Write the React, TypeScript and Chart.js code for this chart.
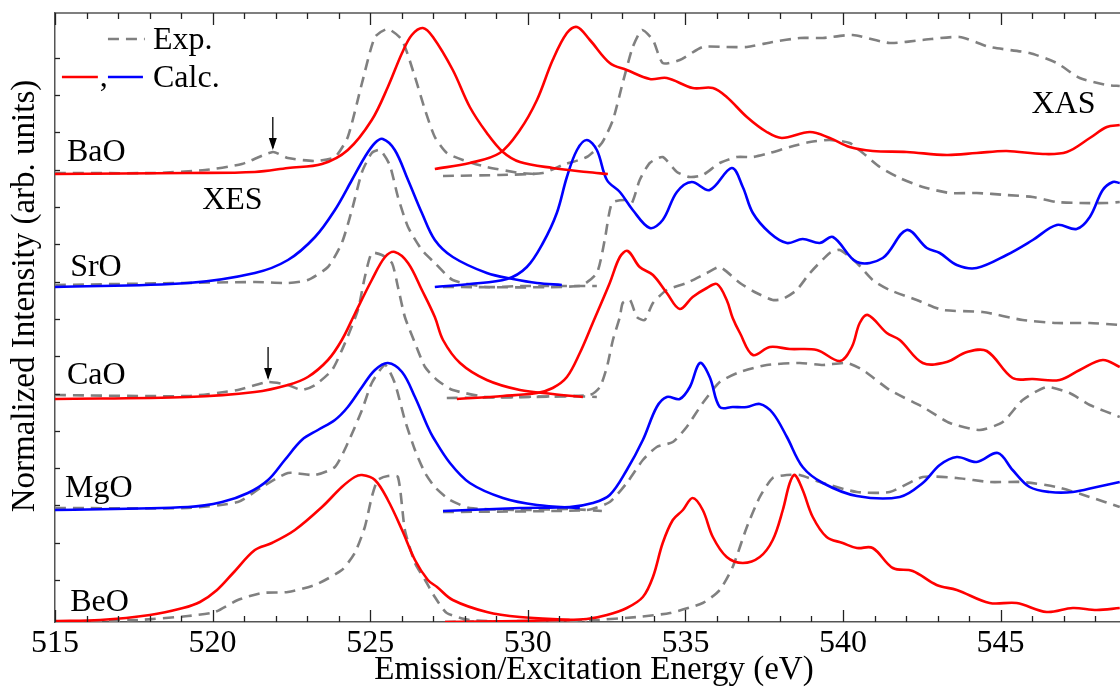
import React, { useEffect, useRef } from 'react';
import { Chart, registerables } from 'chart.js';

Chart.register(...registerables);

const FONT = '"Liberation Serif", "Times New Roman", serif';
const RED = '#ff0000';
const BLUE = '#0000ff';
const GRAY = '#808080';

// x axis (eV)
const xMin = 515;
const xMax = 549.2;
const xTickLabels = [515, 520, 525, 530, 535, 540, 545];
// y axis (arb. units, curves stacked with offsets)
const yMin = 0;
const yMax = 60.9;
const yTicks = [4.2, 7.93, 11.66, 15.39, 19.12, 22.85, 26.58, 30.31, 34.04, 37.77, 41.5, 45.23, 48.96, 52.69, 56.42];

// ---------- BaO ----------
const baoXesCalc: [number, number][] = [
  [515.0, 44.8], [519.22, 44.9], [521.34, 45.0], [522.39, 45.4], [523.47, 45.8], [524.29, 47.2],
  [525.05, 50.2], [525.56, 53.5], [526.01, 56.9], [526.32, 58.7], [526.67, 59.4], [526.99, 58.5],
  [527.62, 55.2], [528.16, 51.5], [528.7, 48.9], [529.21, 47.0], [529.75, 46.0], [530.79, 45.4],
  [531.87, 45.0], [532.54, 44.8],
];
const baoXesExp: [number, number][] = [
  [515.0, 44.9], [518.17, 44.9], [519.76, 45.2], [520.93, 45.8], [521.91, 47.0], [522.39, 46.4],
  [523.25, 46.1], [523.88, 46.5], [524.29, 48.5], [524.74, 53.9], [525.15, 58.5], [525.56, 59.3],
  [526.01, 58.2], [526.42, 54.5], [526.74, 51.2], [527.05, 48.5], [527.43, 46.9], [527.94, 46.2],
  [528.7, 45.5], [529.75, 44.9], [530.22, 44.8],
];
const baoXasCalc: [number, number][] = [
  [527.05, 45.3], [528.16, 45.9], [529.11, 46.9], [529.75, 49.2], [530.29, 52.2], [530.79, 56.2],
  [531.24, 58.9], [531.56, 59.5], [531.97, 58.2], [532.6, 55.9], [533.14, 55.2], [533.87, 54.3],
  [534.41, 54.4], [535.23, 53.4], [535.87, 53.4], [536.31, 52.5], [536.95, 50.5], [537.58, 49.0],
  [538.06, 48.4], [538.95, 49.0], [539.58, 48.4], [540.21, 47.5], [540.94, 47.1], [542.02, 47.0],
  [543.29, 46.7], [544.24, 46.9], [545.19, 47.1], [546.34, 46.8], [547.1, 47.0], [547.83, 48.4],
  [548.37, 49.5], [548.78, 49.7],
];
const baoXasExp: [number, number][] = [
  [527.31, 44.6], [529.11, 44.7], [530.48, 44.9], [531.11, 45.7], [531.87, 46.5], [532.35, 47.9],
  [532.7, 50.2], [533.01, 53.9], [533.33, 57.5], [533.62, 59.2], [533.97, 58.2], [534.28, 55.9],
  [534.82, 56.2], [535.55, 57.5], [536.31, 57.5], [536.95, 57.5], [537.77, 58.0], [538.63, 58.4],
  [539.36, 58.4], [540.31, 58.7], [541.48, 57.9], [542.53, 58.2], [543.7, 58.5], [544.65, 57.5],
  [545.92, 56.9], [546.78, 55.9], [547.51, 54.4], [548.37, 53.7], [548.78, 53.6],
];

// ---------- SrO ----------
const sroXesCalc: [number, number][] = [
  [515.0, 33.5], [519.22, 33.9], [521.34, 34.9], [522.39, 36.2], [523.25, 38.5], [523.88, 41.2],
  [524.42, 44.2], [524.83, 46.5], [525.15, 47.9], [525.4, 48.3], [525.78, 47.2], [526.2, 44.2],
  [526.64, 40.9], [527.05, 38.2], [527.62, 36.5], [528.7, 34.9], [529.53, 34.3], [530.29, 33.9],
  [531.08, 33.7],
];
const sroXesExp: [number, number][] = [
  [515.0, 33.7], [521.34, 34.0], [522.39, 33.9], [523.02, 34.2], [523.66, 35.5], [524.1, 37.9],
  [524.42, 41.2], [524.74, 45.0], [525.05, 46.9], [525.31, 47.2], [525.62, 45.7], [525.88, 42.5],
  [526.2, 39.5], [526.64, 37.2], [527.05, 35.9], [527.62, 34.2], [528.7, 33.5], [529.75, 33.6],
  [530.79, 33.6], [532.19, 33.6],
];
const sroXasCalc: [number, number][] = [
  [527.05, 33.5], [528.16, 33.8], [529.34, 34.3], [529.97, 35.5], [530.48, 37.9], [530.92, 40.9],
  [531.24, 44.5], [531.56, 47.2], [531.87, 48.2], [532.19, 47.2], [532.51, 44.2], [532.92, 43.0],
  [533.33, 41.2], [533.87, 39.4], [534.28, 40.2], [534.73, 43.0], [535.2, 44.0], [535.77, 43.2],
  [536.47, 45.4], [536.82, 43.5], [537.14, 40.9], [537.68, 38.9], [538.22, 37.9], [538.72, 38.3],
  [539.26, 37.9], [539.68, 38.5], [540.44, 36.0], [541.26, 36.4], [542.02, 39.2], [542.66, 37.4],
  [543.07, 36.9], [543.61, 35.7], [544.24, 35.4], [545.19, 36.7], [546.02, 38.2], [546.78, 39.7],
  [547.41, 39.3], [547.83, 40.5], [548.24, 43.2], [548.56, 44.0], [548.78, 43.9],
];
const sroXasExp: [number, number][] = [
  [527.31, 33.5], [531.65, 33.6], [532.19, 34.9], [532.44, 38.2], [532.67, 41.9], [533.08, 42.2],
  [533.3, 41.9], [533.55, 44.2], [533.87, 45.9], [534.28, 46.5], [534.73, 45.0], [535.14, 44.5],
  [535.55, 44.7], [536.09, 45.9], [536.63, 46.5], [537.14, 46.5], [537.68, 46.9], [538.31, 47.5],
  [538.95, 48.0], [539.58, 48.2], [540.21, 47.9], [540.63, 46.9], [541.17, 45.5], [541.8, 44.4],
  [542.53, 43.5], [543.39, 42.9], [544.24, 42.9], [545.19, 42.7], [546.02, 42.5], [546.78, 42.0],
  [547.51, 41.9], [548.37, 41.9], [548.78, 42.0],
];

// ---------- CaO ----------
const caoXesCalc: [number, number][] = [
  [515.0, 22.3], [519.22, 22.5], [521.34, 23.0], [522.39, 23.7], [523.02, 24.5], [523.66, 26.2],
  [524.1, 28.2], [524.51, 30.8], [525.05, 34.2], [525.47, 36.5], [525.78, 37.0], [526.2, 35.9],
  [526.64, 33.2], [527.05, 30.5], [527.31, 28.2], [527.85, 25.9], [528.7, 24.2], [529.75, 23.2],
  [530.79, 22.8], [531.75, 22.5],
];
const caoXesExp: [number, number][] = [
  [515.0, 22.7], [519.22, 22.6], [520.8, 23.2], [521.76, 24.0], [522.39, 23.7], [522.83, 23.2],
  [523.25, 23.7], [523.79, 25.2], [524.2, 27.9], [524.61, 31.2], [524.83, 34.5], [525.05, 36.9],
  [525.37, 36.7], [525.69, 35.9], [525.88, 33.5], [526.1, 30.5], [526.42, 27.9], [526.74, 25.5],
  [527.12, 24.2], [527.62, 23.2], [528.7, 22.5], [529.75, 22.5], [531.33, 22.6], [532.19, 22.5],
];
const caoXasCalc: [number, number][] = [
  [527.75, 22.3], [529.21, 22.6], [530.29, 22.9], [530.79, 23.4], [531.24, 24.5], [531.65, 26.9],
  [532.06, 29.9], [532.6, 33.9], [532.92, 36.5], [533.17, 37.1], [533.55, 35.5], [533.97, 34.7],
  [534.41, 32.9], [534.82, 31.3], [535.23, 32.5], [535.68, 33.4], [536.0, 33.8], [536.31, 32.2],
  [536.5, 30.4], [536.73, 28.9], [537.14, 26.7], [537.68, 27.5], [538.31, 27.3], [539.17, 27.2],
  [539.9, 26.1], [540.28, 27.5], [540.53, 29.9], [540.79, 30.7], [541.39, 28.9], [541.8, 28.2],
  [542.53, 25.9], [543.29, 26.0], [543.93, 27.0], [544.56, 27.1], [545.38, 24.4], [546.02, 24.3],
  [546.87, 24.2], [547.51, 25.2], [548.24, 26.2], [548.78, 25.5],
];
const caoXasExp: [number, number][] = [
  [527.43, 22.4], [530.07, 22.5], [531.97, 22.7], [532.29, 23.5], [532.51, 25.5], [532.7, 28.2],
  [532.92, 30.5], [533.01, 31.9], [533.24, 32.2], [533.46, 30.5], [533.71, 30.2], [533.97, 31.9],
  [534.41, 33.2], [535.04, 33.9], [535.68, 34.9], [536.09, 35.5], [536.73, 33.9], [537.26, 32.9],
  [537.77, 32.2], [538.09, 32.3], [538.53, 33.2], [538.95, 34.9], [539.58, 36.9], [539.9, 37.2],
  [540.44, 35.9], [540.94, 34.2], [541.48, 33.2], [542.34, 32.2], [543.16, 31.2], [544.43, 31.0],
  [545.7, 30.2], [546.78, 29.9], [547.83, 29.9], [548.78, 29.7],
];

// ---------- MgO ----------
const mgoXesCalc: [number, number][] = [
  [515.0, 11.2], [519.22, 11.5], [520.3, 12.0], [521.12, 12.9], [521.76, 14.2], [522.29, 16.2],
  [522.83, 18.2], [523.34, 19.2], [523.88, 20.2], [524.29, 21.5], [524.74, 23.5], [525.15, 25.2],
  [525.56, 25.9], [526.01, 25.0], [526.42, 22.5], [526.83, 19.5], [526.99, 18.5], [527.53, 15.9],
  [528.16, 13.9], [529.21, 12.4], [530.29, 11.7], [531.65, 11.4],
];
const mgoXesExp: [number, number][] = [
  [515.0, 11.4], [519.22, 11.4], [520.8, 12.0], [521.57, 13.5], [522.39, 14.9], [523.25, 14.7],
  [523.88, 15.5], [524.29, 17.9], [524.74, 21.2], [525.05, 23.9], [525.47, 25.7], [525.78, 23.9],
  [526.1, 20.2], [526.42, 17.2], [526.74, 14.9], [527.05, 13.5], [527.53, 12.2], [528.16, 11.4],
  [529.75, 11.2], [531.33, 11.3], [532.35, 11.1],
];
const mgoXasCalc: [number, number][] = [
  [527.31, 11.1], [529.75, 11.4], [531.33, 11.5], [532.06, 11.9], [532.6, 12.7], [533.14, 15.2],
  [533.65, 18.2], [534.09, 21.5], [534.41, 22.5], [534.82, 22.3], [535.14, 23.5], [535.46, 25.9],
  [535.77, 24.5], [536.09, 21.5], [536.5, 21.5], [536.95, 21.5], [537.36, 21.8], [537.77, 20.9],
  [538.22, 18.5], [538.72, 15.5], [539.36, 13.9], [540.44, 12.6], [541.8, 12.5], [542.53, 13.9],
  [543.07, 15.7], [543.61, 16.5], [544.24, 16.0], [544.91, 16.9], [545.38, 15.2], [545.92, 13.5],
  [546.56, 13.0], [547.29, 13.0], [548.05, 13.5], [548.78, 14.0],
];
const mgoXasExp: [number, number][] = [
  [527.31, 11.0], [531.87, 11.2], [532.6, 12.0], [533.14, 13.9], [533.65, 16.2], [534.09, 17.5],
  [534.6, 18.0], [535.04, 19.5], [535.55, 21.9], [536.09, 24.0], [536.73, 25.0], [537.58, 25.7],
  [538.63, 25.9], [539.36, 25.7], [540.12, 25.9], [540.63, 25.2], [541.48, 23.2], [542.53, 21.5],
  [543.39, 19.9], [544.34, 19.2], [545.07, 20.0], [545.7, 22.2], [546.46, 23.5], [547.19, 22.9],
  [547.83, 21.7], [548.78, 20.5],
];

// ---------- BeO ----------
const beoXesCalc: [number, number][] = [
  [515.0, 0.1], [516.43, 0.2], [518.01, 0.7], [519.06, 1.4], [519.6, 2.0], [520.14, 3.2],
  [520.65, 4.9], [521.34, 7.2], [521.88, 7.9], [522.61, 9.2], [523.47, 11.5], [524.1, 13.5],
  [524.51, 14.5], [524.74, 14.7], [525.15, 14.2], [525.56, 12.2], [526.01, 9.2], [526.42, 6.2],
  [526.83, 4.2], [527.12, 3.5], [527.62, 2.2], [528.7, 1.0], [529.75, 0.5], [531.33, 0.2],
];
const beoXesExp: [number, number][] = [
  [515.0, 0.0], [517.63, 0.2], [519.22, 0.6], [520.07, 1.0], [520.8, 2.2], [521.57, 2.9],
  [522.39, 3.0], [523.25, 3.7], [524.1, 5.2], [524.51, 6.9], [524.83, 9.5], [525.05, 12.5],
  [525.24, 14.2], [525.56, 14.6], [525.88, 14.5], [526.1, 9.2], [526.42, 5.9], [526.74, 4.2],
  [527.05, 2.5], [527.43, 0.9], [528.16, 0.2], [529.75, 0.0], [531.87, 0.0],
];
const beoXasCalc: [number, number][] = [
  [527.37, 0.0], [529.75, 0.1], [531.02, 0.2], [531.87, 0.3], [532.51, 0.7], [533.14, 1.4],
  [533.65, 2.5], [533.97, 4.5], [534.28, 7.9], [534.6, 10.2], [534.92, 11.2], [535.23, 12.4],
  [535.55, 11.2], [535.87, 8.5], [536.31, 6.5], [536.82, 5.9], [537.36, 6.5], [537.77, 8.2],
  [538.09, 11.2], [538.31, 13.9], [538.47, 14.7], [538.72, 13.2], [539.04, 10.5], [539.48, 8.5],
  [539.99, 7.9], [540.44, 7.4], [540.94, 7.4], [541.58, 5.4], [542.21, 5.1], [542.97, 3.7],
  [543.61, 3.2], [544.65, 1.9], [545.51, 1.9], [546.46, 1.0], [547.29, 1.4], [548.05, 1.2],
  [548.78, 1.4],
];
const beoXasExp: [number, number][] = [
  [527.37, 0.0], [532.06, 0.2], [533.46, 0.5], [534.51, 0.9], [535.55, 1.9], [536.09, 3.2],
  [536.5, 5.5], [536.95, 9.5], [537.36, 12.5], [537.77, 14.4], [538.22, 14.7], [538.63, 14.7],
  [539.36, 13.9], [540.44, 13.0], [541.48, 13.0], [542.53, 14.5], [543.61, 14.4], [544.65, 14.0],
  [545.7, 14.0], [546.78, 13.5], [547.83, 12.5], [548.78, 11.5],
];

// text annotations: [text, x (eV), y baseline]
const compoundLabels: [string, number, number][] = [
  ['BaO', 515.38, 46.1], ['SrO', 515.48, 34.6], ['CaO', 515.38, 23.8], ['MgO', 515.32, 12.5], ['BeO', 515.48, 1.1],
];
const regionLabels: [string, number, number][] = [['XES', 519.67, 41.3], ['XAS', 545.98, 50.9]];
// arrows: [x (eV), y from, y to]
const arrows: [number, number, number][] = [[521.91, 50.5, 47.2], [521.76, 27.5, 24.2]];
const yTitle = 'Normalized Intensity (arb. units)';
const xTitle = 'Emission/Excitation Energy (eV)';

const calcSets: [[number, number][], string][] = [
  [baoXesCalc, RED], [baoXasCalc, RED], [sroXesCalc, BLUE], [sroXasCalc, BLUE],
  [caoXesCalc, RED], [caoXasCalc, RED], [mgoXesCalc, BLUE], [mgoXasCalc, BLUE],
  [beoXesCalc, RED], [beoXasCalc, RED],
];
const expSets: [number, number][][] = [
  baoXesExp, baoXasExp, sroXesExp, sroXasExp, caoXesExp, caoXasExp, mgoXesExp, mgoXasExp, beoXesExp, beoXasExp,
];

const decorPlugin = {
  id: 'decor',
  afterDraw(chart: any) {
    const { ctx, chartArea: ca, scales } = chart;
    const xs = scales.x;
    const ys = scales.y;
    const X = (v: number) => xs.getPixelForValue(v);
    const Y = (v: number) => ys.getPixelForValue(v);
    const seg = (x1: number, y1: number, x2: number, y2: number) => {
      ctx.beginPath();
      ctx.moveTo(x1, y1);
      ctx.lineTo(x2, y2);
      ctx.stroke();
    };
    ctx.save();
    // top frame
    ctx.strokeStyle = '#555';
    ctx.lineWidth = 1.5;
    seg(ca.left, ca.top, ca.right, ca.top);
    // inward x ticks on bottom and top
    ctx.strokeStyle = '#222';
    ctx.lineWidth = 1.3;
    for (let v = 515; v <= 549; v++) {
      const px = Math.round(X(v)) + 0.5;
      const len = v % 5 === 0 ? 12 : 6;
      seg(px, ca.bottom, px, ca.bottom - len);
      seg(px, ca.top, px, ca.top + len);
    }
    // inward y ticks
    for (const t of yTicks) {
      const py = Math.round(Y(t)) + 0.5;
      seg(ca.left, py, ca.left + 5, py);
    }
    // y title
    ctx.fillStyle = '#000';
    ctx.save();
    ctx.translate(25, 296);
    ctx.rotate(-Math.PI / 2);
    ctx.font = `33px ${FONT}`;
    ctx.textAlign = 'center';
    ctx.textBaseline = 'middle';
    ctx.fillText(yTitle, 0, 0);
    ctx.restore();
    // texts
    ctx.font = `32px ${FONT}`;
    ctx.textAlign = 'left';
    ctx.textBaseline = 'alphabetic';
    for (const [t, x, y] of compoundLabels) ctx.fillText(t, X(x), Y(y));
    for (const [t, x, y] of regionLabels) ctx.fillText(t, X(x), Y(y));
    // arrows
    ctx.strokeStyle = '#000';
    ctx.lineWidth = 1.3;
    for (const [x, y1, y2] of arrows) {
      const px = X(x);
      const p1 = Y(y1);
      const p2 = Y(y2);
      seg(px, p1, px, p2 - 2);
      ctx.beginPath();
      ctx.moveTo(px, p2);
      ctx.lineTo(px - 4, p2 - 12);
      ctx.lineTo(px + 4, p2 - 12);
      ctx.closePath();
      ctx.fill();
    }
    // legend
    ctx.lineWidth = 2.5;
    ctx.strokeStyle = GRAY;
    ctx.setLineDash([11, 7]);
    seg(X(516.68), Y(58.3), X(517.85), Y(58.3));
    ctx.setLineDash([]);
    ctx.strokeStyle = RED;
    seg(X(515.22), Y(54.5), X(516.36), Y(54.5));
    ctx.strokeStyle = BLUE;
    seg(X(516.68), Y(54.5), X(517.79), Y(54.5));
    ctx.fillText('Exp.', X(518.11), Y(57.3));
    ctx.fillText(',', X(516.42), Y(53.6));
    ctx.fillText('Calc.', X(518.11), Y(53.5));
    ctx.restore();
  },
};

export default function App() {
  const ref = useRef<HTMLCanvasElement | null>(null);
  useEffect(() => {
    if (!ref.current) return;
    const datasets: any[] = [];
    for (const [pts, color] of calcSets) {
      datasets.push({
        data: pts.map(([x, y]) => ({ x, y })),
        borderColor: color,
        borderWidth: 2.6,
        pointRadius: 0,
        fill: false,
        tension: 0.35,
      });
    }
    for (const pts of expSets) {
      datasets.push({
        data: pts.map(([x, y]) => ({ x, y })),
        borderColor: GRAY,
        borderWidth: 2.6,
        borderDash: [11, 7],
        pointRadius: 0,
        fill: false,
        tension: 0.2,
      });
    }
    const chart = new Chart(ref.current, {
      type: 'line',
      data: { datasets },
      plugins: [decorPlugin],
      options: {
        responsive: false,
        animation: false,
        devicePixelRatio: 1,
        layout: { padding: { top: 13, right: 7, left: 0, bottom: 0 } },
        plugins: { legend: { display: false }, tooltip: { enabled: false } },
        scales: {
          x: {
            type: 'linear',
            min: xMin,
            max: xMax,
            afterFit: (s: any) => { s.height = 65; },
            afterBuildTicks: (s: any) => { s.ticks = xTickLabels.map((v) => ({ value: v })); },
            grid: { display: false, drawTicks: false },
            border: { display: true, color: '#555', width: 1.5 },
            ticks: {
              autoSkip: false,
              maxRotation: 0,
              padding: 2,
              color: '#000',
              font: { family: FONT, size: 32 },
            },
            title: {
              display: true,
              text: xTitle,
              color: '#000',
              font: { family: FONT, size: 33, lineHeight: 1 },
              padding: { top: 0, bottom: 0 },
            },
          },
          y: {
            type: 'linear',
            min: yMin,
            max: yMax,
            afterFit: (s: any) => { s.width = 55; },
            grid: { display: false, drawTicks: false },
            border: { display: true, color: '#555', width: 1.5 },
            ticks: { display: false },
            title: { display: false },
          },
        },
      },
    });
    return () => chart.destroy();
  }, []);
  return (
    <div style={{ position: 'fixed', left: 0, top: 0, width: 1120, height: 687, overflow: 'hidden', background: '#fff' }}>
      <canvas ref={ref} width={1140} height={687} style={{ width: 1140, height: 687, display: 'block' }} />
    </div>
  );
}
